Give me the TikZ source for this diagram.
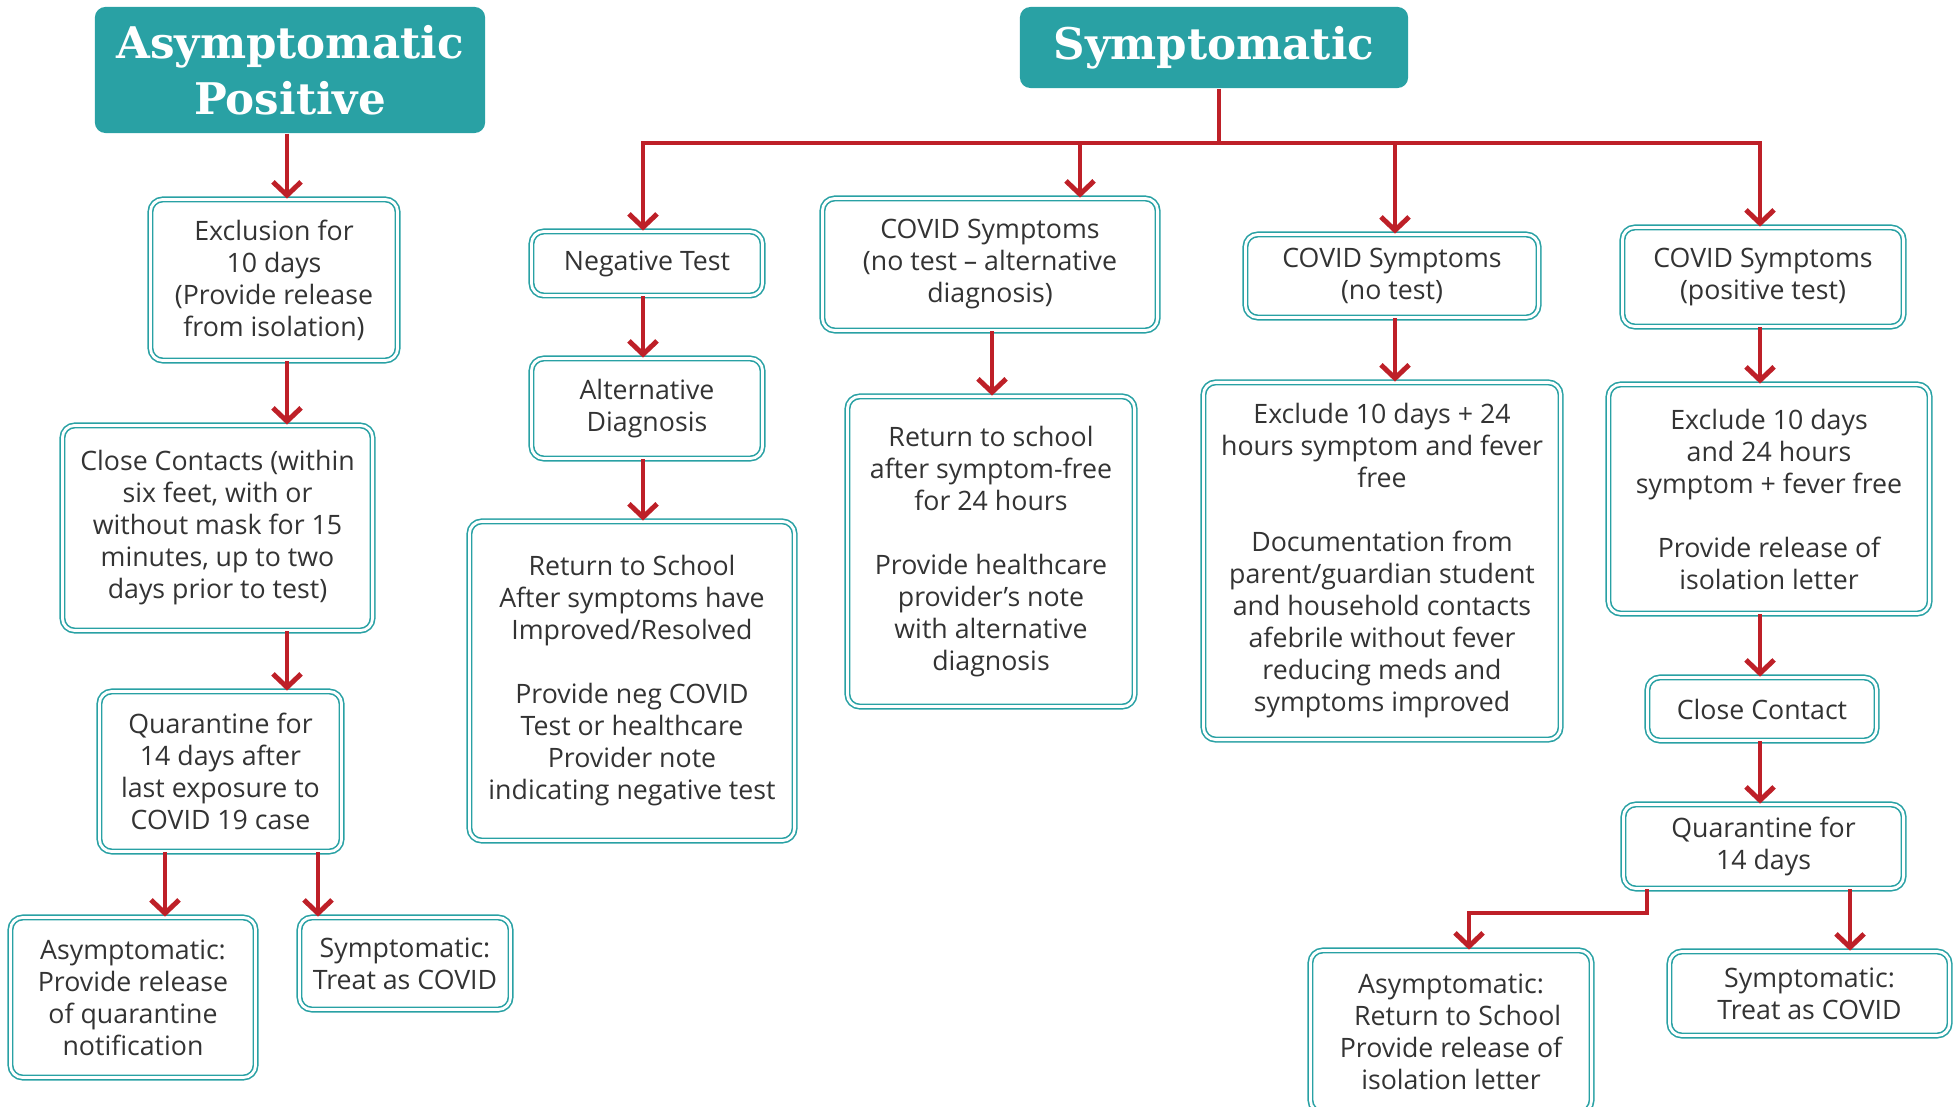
\documentclass[tikz,border=0pt]{standalone}
\usepackage{fontspec}
\setmainfont{Open Sans}
\newfontfamily\headfont{DejaVu Serif}
\usetikzlibrary{arrows.meta}
\definecolor{tealBox}{RGB}{41,161,164}
\definecolor{redLine}{RGB}{190,32,40}
\definecolor{textGray}{RGB}{51,51,51}

\begin{document}
\begin{tikzpicture}
[x=0.01cm, y=-0.01cm,
  headDecorate/.style={rounded corners=3pt, fill=tealBox, text=white, align=center,
    font=\headfont\bfseries\fontsize{12.4}{16}\selectfont},
  boxDecorate/.style={rounded corners=3.5pt, draw=tealBox, double=white, double distance=0.8pt,
    line width=0.45pt, align=center, text=textGray, inner sep=2pt,
    font=\fontsize{7.6}{9.1}\selectfont},
  lineDecorate/.style={redLine, line width=1.4pt},
  arrowDecorate/.style={lineDecorate, -{Straight Barb[length=3.8pt,width=8pt]}}]
\useasboundingbox (0,0) rectangle (1955,1107);
%% headers
\node (hdrA) at (290,70) [headDecorate, minimum width=3.90cm, minimum height=1.26cm] {Asymptomatic\\Positive};
\node (hdrB) at (1214,47.5) [headDecorate, minimum width=3.88cm, minimum height=0.81cm] {Symptomatic};
%% asymptomatic positive column
\node (excl) at (274,280) [boxDecorate, minimum width=2.47cm, minimum height=1.61cm] {Exclusion for\\10 days\\(Provide release\\from isolation)};
\node (close) at (217.5,528) [boxDecorate, minimum width=3.10cm, minimum height=2.05cm] {Close Contacts (within\\six feet, with or\\without mask for 15\\minutes, up to two\\days prior to test)};
\node (quarA) at (220.5,771.5) [boxDecorate, minimum width=2.42cm, minimum height=1.60cm] {Quarantine for\\14 days after\\last exposure to\\COVID 19 case};
\node (asymA) at (133,997.5) [boxDecorate, minimum width=2.45cm, minimum height=1.60cm] {Asymptomatic:\\Provide release\\of quarantine\\notification};
\node (symA) at (405,963.5) [boxDecorate, minimum width=2.11cm, minimum height=0.92cm] {Symptomatic:\\Treat as COVID};
%% symptomatic columns
\node (negT) at (647,263.5) [boxDecorate, minimum width=2.31cm, minimum height=0.64cm] {Negative Test};
\node (altD) at (647,408.5) [boxDecorate, minimum width=2.31cm, minimum height=1.00cm] {Alternative\\Diagnosis};
\node (retN) at (632,681) [boxDecorate, minimum width=3.25cm, minimum height=3.19cm] {Return to School\\After symptoms have\\Improved/Resolved\\[9.1pt]Provide neg COVID\\Test or healthcare\\Provider note\\indicating negative test};
\node (noAlt) at (990,264.5) [boxDecorate, minimum width=3.35cm, minimum height=1.32cm] {COVID Symptoms\\(no test – alternative\\diagnosis)};
\node (retA) at (991,551.5) [boxDecorate, minimum width=2.87cm, minimum height=3.10cm] {Return to school\\after symptom-free\\for 24 hours\\[9.1pt]Provide healthcare\\provider’s note\\with alternative\\diagnosis};
\node (noTest) at (1392,276) [boxDecorate, minimum width=2.93cm, minimum height=0.83cm] {COVID Symptoms\\(no test)};
\node (exclN) at (1382,561) [boxDecorate, minimum width=3.57cm, minimum height=3.57cm] {Exclude 10 days + 24\\hours symptom and fever\\free\\[9.1pt]Documentation from\\parent/guardian student\\and household contacts\\afebrile without fever\\reducing meds and\\symptoms improved};
\node (posT) at (1763,277) [boxDecorate, minimum width=2.81cm, minimum height=0.99cm] {COVID Symptoms\\(positive test)};
\node (exclP) at (1769,499) [boxDecorate, minimum width=3.21cm, minimum height=2.29cm] {Exclude 10 days\\and 24 hours\\symptom + fever free\\[9.1pt]Provide release of\\isolation letter};
\node (ccP) at (1762,709) [boxDecorate, minimum width=2.29cm, minimum height=0.63cm] {Close Contact};
\node (quarP) at (1763.5,846.5) [boxDecorate, minimum width=2.80cm, minimum height=0.84cm] {Quarantine for\\14 days};
\node (asymP) at (1451,1031.5) [boxDecorate, minimum width=2.81cm, minimum height=1.62cm] {Asymptomatic:\\\hspace*{0.5em}Return to School\\Provide release of\\isolation letter};
\node (symP) at (1809.5,993.5) [boxDecorate, minimum width=2.80cm, minimum height=0.84cm] {Symptomatic:\\Treat as COVID};
%% branch points
\coordinate (barL) at (643,143);
\coordinate (barB) at (1080,143);
\coordinate (barM) at (1219,143);
\coordinate (barC) at (1395,143);
\coordinate (barR) at (1760,143);
\coordinate (elbow) at (1469,913);
%% edges or lines
\draw[lineDecorate] (hdrB.south -| barM) -- (barM);
\draw[arrowDecorate] (barM) -- (barL) -- (barL |- negT.north);
\draw[arrowDecorate] (barM) -- (barR) -- (barR |- posT.north);
\draw[arrowDecorate] (barB) -- (barB |- noAlt.north);
\draw[arrowDecorate] (barC) -- (barC |- noTest.north);
\draw[arrowDecorate] (quarP.south -| 1647,0) |- (elbow) -- (elbow |- asymP.north);
\foreach \startnode/\endnode/\x in {
  hdrA/excl/287, excl/close/287, close/quarA/287, quarA/asymA/165,
  quarA/symA/318, negT/altD/643, altD/retN/643, noAlt/retA/992,
  noTest/exclN/1395, posT/exclP/1760, exclP/ccP/1760, ccP/quarP/1760,
  quarP/symP/1850}
{
  \draw[arrowDecorate] (\startnode.south -| \x,0) -- (\endnode.north -| \x,0);
}
\end{tikzpicture}
\end{document}
